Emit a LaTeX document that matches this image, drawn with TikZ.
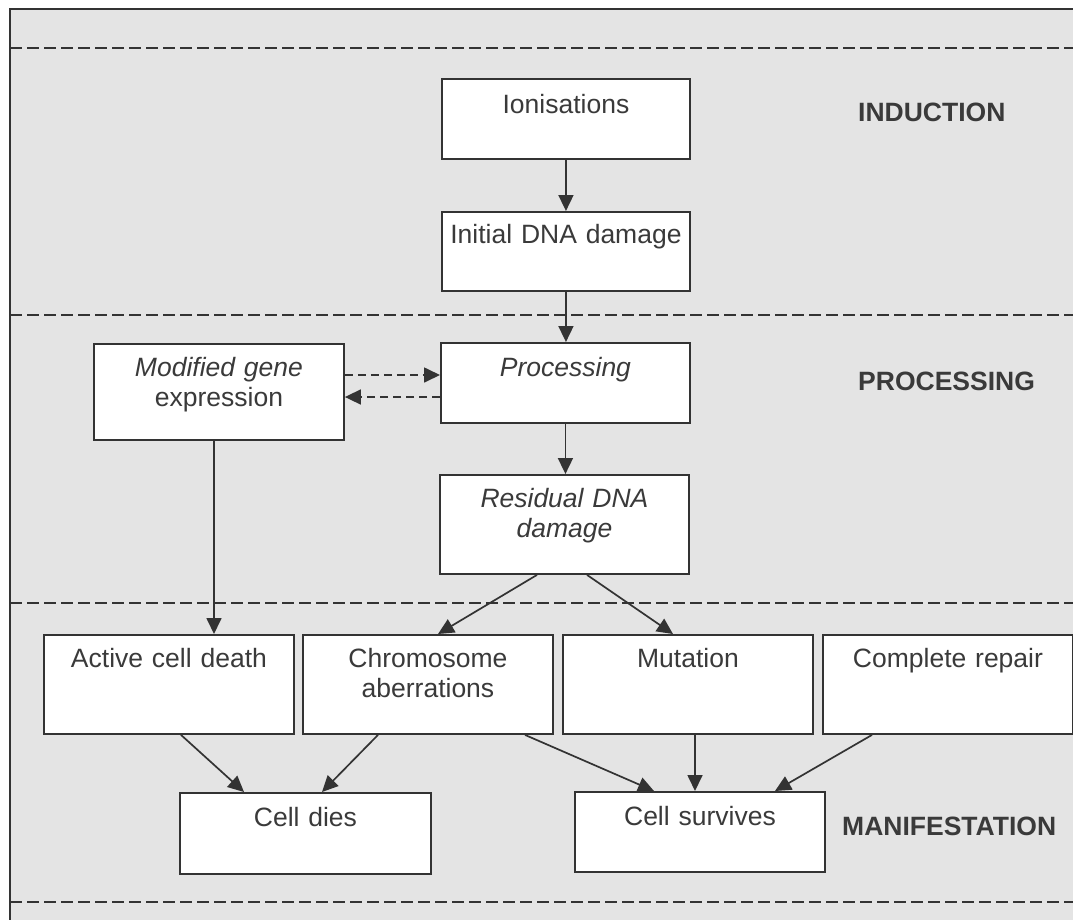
\documentclass[tikz,border=0pt]{standalone}
\usepackage{fontspec}
\setmainfont{Liberation Sans}
\usetikzlibrary{arrows.meta,calc}
\definecolor{bg}{HTML}{E4E4E4}
\definecolor{ink}{HTML}{3A3A3A}
\definecolor{edge}{HTML}{333333}
\begin{document}
\begin{tikzpicture}[x=1pt,y=-1pt,
  box/.style={draw=edge, line width=1.9pt, fill=white, inner sep=0pt, anchor=north west},
  txt/.style={text=ink, font=\fontsize{26.5}{30.5}\selectfont, text width=245pt, align=center, anchor=base, inner sep=0pt},
  phase/.style={text=ink, font=\fontsize{26.5}{30.5}\selectfont\bfseries, anchor=base west, inner sep=0pt},
  sep/.style={draw=edge, line width=1.7pt, dash pattern=on 12pt off 5pt},
  arr/.style={draw=edge, line width=1.7pt, -{Triangle[length=16pt,width=15pt]}},
  darr/.style={arr, dash pattern=on 8pt off 5pt},
]
\useasboundingbox (0,0) rectangle (1073,919);
\clip (0,0) rectangle (1073,919);
\fill[white] (0,0) rectangle (1073,919);
\draw[edge, line width=2pt, fill=bg] (10,9) rectangle (1100,950);

% phase separators
\draw[sep] (10,48) -- (1073,48);
\draw[sep] (10,315) -- (1073,315);
\draw[sep] (10,603) -- (1073,603);
\draw[sep] (10,902) -- (1073,902);

% boxes
\node[box, minimum width=248pt, minimum height=80pt] (ion) at (441,78) {};
\node[box, minimum width=248pt, minimum height=79pt] (init) at (441,211) {};
\node[box, minimum width=249pt, minimum height=80pt] (proc) at (440,342) {};
\node[box, minimum width=249pt, minimum height=99pt] (resid) at (439,474) {};
\node[box, minimum width=250pt, minimum height=96pt] (gene) at (93,343) {};
\node[box, minimum width=250pt, minimum height=99pt] (acd) at (43,634) {};
\node[box, minimum width=250pt, minimum height=99pt] (chrom) at (302,634) {};
\node[box, minimum width=250pt, minimum height=99pt] (mut) at (562,634) {};
\node[box, minimum width=250pt, minimum height=99pt] (rep) at (822,634) {};
\node[box, minimum width=251pt, minimum height=81pt] (dies) at (179,792) {};
\node[box, minimum width=250pt, minimum height=80pt] (surv) at (574,791) {};

% texts
\node[txt] (t-ion) at ($(ion.north)+(0,35)$) {Ionisations};
\node[txt] (t-init) at ($(init.north)+(0,32)$) {Initial DNA damage};
\node[txt] (t-proc) at ($(proc.north)+(0,34)$) {\itshape Processing};
\node[txt] (t-resid) at ($(resid.north)+(0,33)$) {\itshape Residual DNA\\ damage};
\node[txt] (t-gene) at ($(gene.north)+(0,33)$) {\itshape Modified gene\\ \upshape expression};
\node[txt] (t-acd) at ($(acd.north)+(0,33)$) {Active cell death};
\node[txt] (t-chrom) at ($(chrom.north)+(0,33)$) {Chromosome\\ aberrations};
\node[txt] (t-mut) at ($(mut.north)+(0,33)$) {Mutation};
\node[txt] (t-rep) at ($(rep.north)+(0,33)$) {Complete repair};
\node[txt] (t-dies) at ($(dies.north)+(0,34)$) {Cell dies};
\node[txt] (t-surv) at ($(surv.north)+(0,34)$) {Cell survives};

% phase labels
\node[phase] (p-ind) at (858,121) {INDUCTION};
\node[phase] (p-proc) at (858,390) {PROCESSING};
\node[phase] (p-man) at (842,835) {MANIFESTATION};

% connectors
\draw[arr] (ion.south) -- (ion.south |- init.north);
\draw[arr] (init.south) -- (init.south |- proc.north);
\draw[arr] (proc.south) -- (proc.south |- resid.north);
\draw[darr] ($(gene.north east)+(0,32)$) -- ($(proc.north west)+(0,33)$);
\draw[darr] ($(proc.north west)+(0,55)$) -- ($(gene.north east)+(0,54)$);
\draw[arr] ($(gene.south west)+(121,0)$) -- ($(acd.north west)+(171,0)$);
\draw[arr] ($(resid.south west)+(98,0)$) -- ($(chrom.north west)+(136,0)$);
\draw[arr] ($(resid.south west)+(148,0)$) -- ($(mut.north west)+(111,0)$);
\draw[arr] ($(acd.south west)+(138,0)$) -- ($(dies.north west)+(65,0)$);
\draw[arr] ($(chrom.south west)+(76,0)$) -- ($(dies.north west)+(143,0)$);
\draw[arr] ($(chrom.south west)+(223,0)$) -- ($(surv.north west)+(80,0)$);
\draw[arr] ($(mut.south west)+(133,0)$) -- ($(surv.north west)+(121,0)$);
\draw[arr] ($(rep.south west)+(50,0)$) -- ($(surv.north west)+(201,0)$);
\end{tikzpicture}
\end{document}
